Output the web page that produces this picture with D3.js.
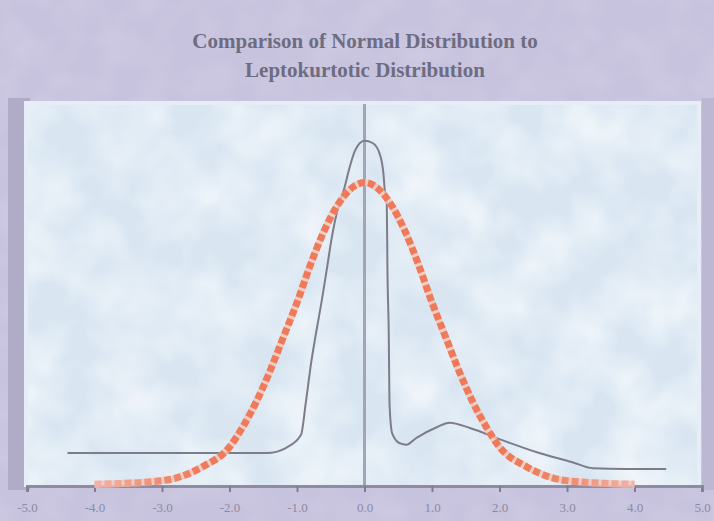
<!DOCTYPE html>
<html>
<head>
<meta charset="utf-8">
<script src="https://cdn.jsdelivr.net/npm/d3@7"></script>
<style>
  body { margin: 0; background: #c8c4df; }
  svg { display: block; }
</style>
</head>
<body>
<div id="chart"></div>
<script>
// title lines
const titleLines = ["Comparison of Normal Distribution to", "Leptokurtotic Distribution"];

// x ticks and their labels
const tickValues = [-5, -4, -3, -2, -1, 0, 1, 2, 3, 4, 5];
const tickLabels = ["-5.0", "-4.0", "-3.0", "-2.0", "-1.0", "0.0", "1.0", "2.0", "3.0", "4.0", "5.0"];

// normal distribution
const normalX = [-4.0, -3.6, -3.2, -2.8, -2.4, -2.0, -1.8, -1.6, -1.4, -1.2, -1.0, -0.8, -0.6, -0.4, -0.2, 0,
                 0.2, 0.4, 0.6, 0.8, 1.0, 1.2, 1.4, 1.6, 1.8, 2.0, 2.4, 2.8, 3.2, 3.6, 4.0];
const normalY = [0.001, 0.002, 0.004, 0.009, 0.024, 0.050, 0.077, 0.110, 0.150, 0.195, 0.240, 0.290, 0.334, 0.368, 0.390, 0.398,
                 0.390, 0.368, 0.334, 0.290, 0.240, 0.195, 0.150, 0.110, 0.077, 0.050, 0.024, 0.009, 0.004, 0.002, 0.001];

// leptokurtotic distribution
const lepX = [-4.4, -2.5, -1.45, -1.16, -0.94, -0.87, -0.79, -0.71, -0.64, -0.56, -0.48, -0.40, -0.30, -0.22, -0.14, 0,
              0.12, 0.22, 0.28, 0.30, 0.33, 0.34, 0.36, 0.37, 0.41, 0.52, 0.62, 0.77, 1.07, 1.26, 1.56, 2.04, 2.59, 3.08, 3.38, 3.88, 4.47];
const lepY = [0.042, 0.042, 0.042, 0.049, 0.066, 0.108, 0.161, 0.204, 0.239, 0.283, 0.328, 0.362, 0.390, 0.418, 0.440, 0.453,
              0.450, 0.437, 0.410, 0.388, 0.371, 0.283, 0.195, 0.108, 0.068, 0.055, 0.053, 0.062, 0.076, 0.082, 0.075, 0.059, 0.042, 0.030, 0.022, 0.021, 0.021];

const W = 714, H = 521;

const svg = d3.select("#chart").append("svg").attr("width", W).attr("height", H);
const defs = svg.append("defs");

// cloudy texture for the plot panel
const f = defs.append("filter").attr("id", "clouds")
  .attr("x", 0).attr("y", 0).attr("width", "100%").attr("height", "100%");
f.append("feTurbulence").attr("type", "fractalNoise").attr("baseFrequency", "0.018")
  .attr("numOctaves", 3).attr("seed", 7).attr("result", "n");
f.append("feColorMatrix").attr("in", "n").attr("type", "matrix")
  .attr("values", "0 0 0 0 1  0 0 0 0 1  0 0 0 0 1  1.6 0 0 0 -0.55");

const f2 = defs.append("filter").attr("id", "bgtex")
  .attr("x", 0).attr("y", 0).attr("width", "100%").attr("height", "100%");
f2.append("feTurbulence").attr("type", "fractalNoise").attr("baseFrequency", "0.03")
  .attr("numOctaves", 2).attr("seed", 3).attr("result", "n");
f2.append("feColorMatrix").attr("in", "n").attr("type", "matrix")
  .attr("values", "0 0 0 0 0.92  0 0 0 0 0.9  0 0 0 0 0.98  0.8 0 0 0 -0.3");

// orange stroke gradient (lighter pink at tails)
const g = defs.append("linearGradient").attr("id", "orangeGrad")
  .attr("gradientUnits", "userSpaceOnUse");

const x = d3.scaleLinear().domain([-5, 5]).range([27, 702]);
const y = d3.scaleLinear().domain([0, 0.5]).range([485, 105]);

g.attr("x1", x(-4)).attr("x2", x(4)).attr("y1", 0).attr("y2", 0);
[[0, "#f2b3a8"], [0.13, "#ee8a6c"], [0.2, "#ee7a5a"], [0.8, "#ee7a5a"], [0.87, "#ee8a6c"], [1, "#f2b3a8"]]
  .forEach(s => g.append("stop").attr("offset", s[0]).attr("stop-color", s[1]));

// background
svg.append("rect").attr("width", W).attr("height", H).attr("fill", "#c7c3de");
svg.append("rect").attr("width", W).attr("height", H).attr("filter", "url(#bgtex)").attr("opacity", 0.35);

// shadows around the panel
svg.append("rect").attr("x", 8).attr("y", 98).attr("width", 22).attr("height", 392)
  .attr("fill", "#b0acc8");
svg.append("rect").attr("x", 702).attr("y", 98).attr("width", 12).attr("height", 392)
  .attr("fill", "#bcb8d3");

// panel
svg.append("rect").attr("x", 24).attr("y", 101).attr("width", 677).attr("height", 386)
  .attr("fill", "#e6edf6");
svg.append("rect").attr("x", 28).attr("y", 105).attr("width", 669).attr("height", 380)
  .attr("fill", "#d9e6f2");
svg.append("rect").attr("x", 28).attr("y", 105).attr("width", 669).attr("height", 380)
  .attr("filter", "url(#clouds)").attr("opacity", 0.75);

// title
svg.append("g").selectAll("text").data(titleLines).enter().append("text")
  .attr("x", 365)
  .attr("y", (d, i) => 48 + i * 29)
  .attr("text-anchor", "middle")
  .attr("font-family", "Liberation Serif, Times New Roman, serif")
  .attr("font-weight", "bold")
  .attr("font-size", 21)
  .attr("fill", "#6e6c80")
  .text(d => d);

// vertical line at zero
svg.append("line")
  .attr("x1", x(0)).attr("x2", x(0)).attr("y1", 104).attr("y2", 487)
  .attr("stroke", "#a2a6b4").attr("stroke-width", 3);

// x axis
const xAxis = d3.axisBottom(x).tickValues(tickValues).tickSize(6)
  .tickFormat((d, i) => tickLabels[i]);
const ax = svg.append("g").attr("transform", "translate(0,486)").call(xAxis);
ax.select(".domain").attr("stroke", "#8e8ca0").attr("stroke-width", 3);
ax.selectAll(".tick line").attr("stroke", "#7e7c90").attr("stroke-width", 2);
ax.selectAll(".tick text")
  .attr("y", 17)
  .attr("font-family", "Liberation Serif, Times New Roman, serif")
  .attr("font-size", 13)
  .attr("fill", "#8c8aa2");

// leptokurtotic curve
const lepData = lepX.map((v, i) => [v, lepY[i]]);
svg.append("path")
  .datum(lepData)
  .attr("fill", "none")
  .attr("stroke", "#7c7c8a")
  .attr("stroke-width", 2)
  .attr("d", d3.line().x(d => x(d[0])).y(d => y(d[1])).curve(d3.curveMonotoneX));

// normal curve, thick dotted orange
const normData = normalX.map((v, i) => [v, normalY[i]]);
const normLine = d3.line().x(d => x(d[0])).y(d => y(d[1])).curve(d3.curveMonotoneX);
svg.append("path")
  .datum(normData)
  .attr("fill", "none")
  .attr("stroke", "#f3c4b8")
  .attr("stroke-width", 7)
  .attr("opacity", 0.8)
  .attr("d", normLine);
svg.append("path")
  .datum(normData)
  .attr("fill", "none")
  .attr("stroke", "url(#orangeGrad)")
  .attr("stroke-width", 7)
  .attr("stroke-dasharray", "7,3")
  .attr("d", normLine);
</script>
</body>
</html>
